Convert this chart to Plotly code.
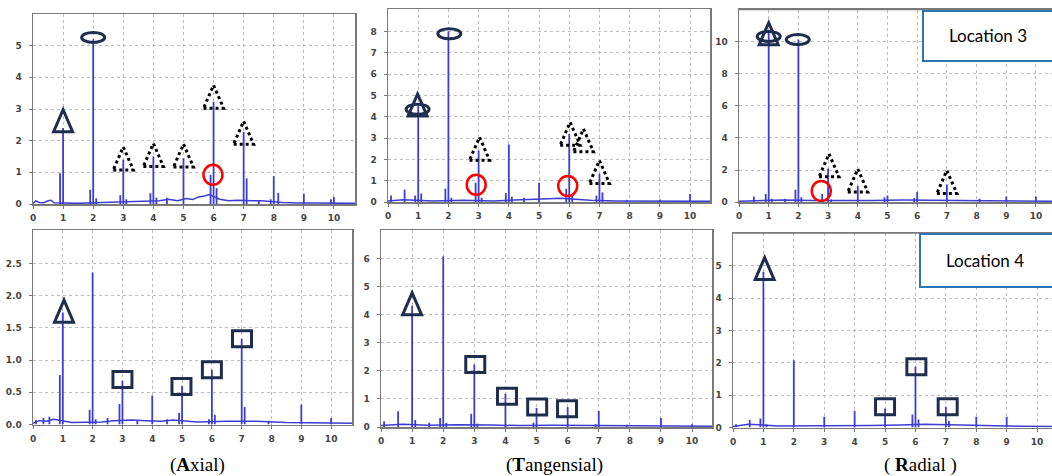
import plotly.graph_objects as go

W, H = 1052, 476

# ---------------- data ----------------
x_ticks = [0, 1, 2, 3, 4, 5, 6, 7, 8, 9, 10]

# Axial, Location 3
a3_peak_f = [0.9, 1.0, 1.9, 2.0, 2.1, 2.9, 3.0, 3.1, 3.9, 4.0, 4.1, 4.45, 5.0, 5.9, 6.0, 6.1, 7.0, 7.1, 7.5, 7.9, 8.0, 8.15, 9.0, 9.9, 10.0]
a3_peak_a = [0.97, 2.4, 0.45, 5.2, 0.18, 0.28, 1.4, 0.15, 0.34, 1.5, 0.2, 0.2, 1.45, 0.92, 3.23, 0.5, 2.28, 0.81, 0.1, 0.15, 0.88, 0.35, 0.33, 0.15, 0.22]
a3_floor_x = [0, 0.1, 0.2, 0.35, 0.5, 0.6, 0.7, 1.2, 1.5, 2.3, 2.6, 3.3, 3.6, 4.2, 4.5, 4.8, 5.1, 5.3, 5.5, 5.7, 5.85, 6.2, 6.5, 6.8, 7.3, 7.6, 8.3, 8.8, 9.5, 10.7]
a3_floor_y = [0.02, 0.1, 0.05, 0.04, 0.1, 0.12, 0.04, 0.04, 0.02, 0.05, 0.06, 0.06, 0.08, 0.1, 0.15, 0.1, 0.17, 0.14, 0.22, 0.25, 0.3, 0.15, 0.1, 0.12, 0.1, 0.1, 0.05, 0.03, 0.03, 0.02]
a3_yticks = [0, 1, 2, 3, 4, 5]

# Tangensial, Location 3
t3_peak_f = [0.1, 0.55, 0.9, 1.0, 1.1, 1.9, 2.0, 2.1, 2.9, 3.0, 3.1, 3.9, 4.0, 4.1, 4.5, 5.0, 5.9, 6.0, 6.1, 6.9, 7.0, 7.1, 7.9, 9.0, 10.0]
t3_peak_a = [0.3, 0.58, 0.3, 4.5, 0.4, 0.63, 8.0, 0.2, 0.9, 2.42, 0.2, 0.42, 2.7, 0.25, 0.2, 0.9, 0.62, 3.2, 0.3, 0.3, 1.33, 0.45, 0.1, 0.12, 0.38]
t3_floor_x = [0, 0.5, 1.5, 2.5, 3.5, 4.3, 4.8, 5.3, 5.7, 6.3, 6.7, 7.5, 8.5, 9.5, 10.7]
t3_floor_y = [0.05, 0.1, 0.05, 0.08, 0.05, 0.08, 0.12, 0.15, 0.18, 0.1, 0.08, 0.05, 0.04, 0.04, 0.03]
t3_yticks = [0, 1, 2, 3, 4, 5, 6, 7, 8]

# Radial, Location 3
r3_peak_f = [0.5, 0.9, 1.0, 1.1, 1.55, 1.9, 2.0, 2.1, 2.8, 3.0, 3.1, 4.0, 4.9, 5.0, 5.9, 6.0, 7.0, 8.1, 9.0, 10.0]
r3_peak_a = [0.35, 0.5, 10.6, 0.2, 0.2, 0.77, 10.15, 0.3, 0.5, 2.1, 0.15, 1.0, 0.3, 0.4, 0.25, 0.62, 1.1, 0.2, 0.35, 0.35]
r3_floor_x = [0, 0.8, 1.5, 2.5, 3.5, 4.5, 5.5, 6.5, 7.5, 8.5, 9.5, 10.6]
r3_floor_y = [0.05, 0.1, 0.12, 0.1, 0.08, 0.1, 0.12, 0.1, 0.1, 0.08, 0.06, 0.05]
r3_yticks = [0, 2, 4, 6, 8, 10]

# Axial, Location 4
a4_peak_f = [0.1, 0.35, 0.55, 0.9, 1.0, 1.9, 2.0, 2.1, 2.5, 2.9, 3.0, 3.5, 4.0, 4.5, 4.9, 5.0, 5.9, 6.0, 6.1, 7.0, 7.1, 7.9, 9.0, 10.0]
a4_peak_a = [0.07, 0.1, 0.12, 0.77, 1.74, 0.23, 2.36, 0.08, 0.1, 0.32, 0.68, 0.06, 0.45, 0.08, 0.18, 0.6, 0.08, 0.85, 0.15, 1.33, 0.27, 0.06, 0.31, 0.1]
a4_floor_x = [0, 0.2, 0.45, 0.7, 1.3, 2.3, 2.7, 3.3, 3.8, 4.3, 4.7, 5.5, 6.5, 7.5, 8.5, 9.5, 10.7]
a4_floor_y = [0.02, 0.06, 0.05, 0.08, 0.03, 0.04, 0.06, 0.07, 0.06, 0.05, 0.07, 0.04, 0.05, 0.05, 0.03, 0.03, 0.02]
a4_yticks = [0.0, 0.5, 1.0, 1.5, 2.0, 2.5]

# Tangensial, Location 4
t4_peak_f = [0.1, 0.55, 1.0, 1.1, 1.55, 1.9, 2.0, 2.1, 2.9, 3.0, 3.1, 4.0, 4.9, 5.0, 6.0, 6.9, 7.0, 7.9, 9.0, 10.0]
t4_peak_a = [0.2, 0.56, 4.33, 0.25, 0.15, 0.32, 6.08, 0.15, 0.47, 2.23, 0.12, 1.19, 0.15, 0.68, 0.71, 0.1, 0.57, 0.08, 0.32, 0.1]
t4_floor_x = [0, 0.3, 0.7, 1.5, 2.5, 3.5, 4.5, 5.5, 6.5, 7.5, 8.5, 9.5, 10.7]
t4_floor_y = [0.05, 0.08, 0.1, 0.06, 0.08, 0.07, 0.05, 0.06, 0.06, 0.05, 0.04, 0.04, 0.03]
t4_yticks = [0, 1, 2, 3, 4, 5, 6]

# Radial, Location 4
r4_peak_f = [0.1, 0.55, 0.9, 1.0, 1.1, 2.0, 3.0, 4.0, 5.0, 5.9, 6.0, 6.1, 7.0, 7.1, 8.0, 9.0, 10.0]
r4_peak_a = [0.1, 0.23, 0.28, 4.81, 0.1, 2.08, 0.33, 0.52, 0.59, 0.4, 1.88, 0.25, 0.64, 0.2, 0.33, 0.33, 0.05]
r4_floor_x = [0, 0.5, 1.5, 2.5, 3.5, 4.5, 5.5, 6.3, 7.5, 8.5, 9.5, 10.5]
r4_floor_y = [0.03, 0.1, 0.05, 0.05, 0.05, 0.06, 0.08, 0.1, 0.08, 0.05, 0.04, 0.03]
r4_yticks = [0, 1, 2, 3, 4, 5]

# annotation marks: (kind, x, y) in data units
a3_marks = [("tri", 1.0, 2.63), ("ell", 2.0, 5.26), ("dtri", 3.0, 1.44), ("dtri", 4.0, 1.55),
            ("dtri", 5.0, 1.53), ("dtri", 6.0, 3.39), ("dtri", 7.0, 2.25), ("red", 5.98, 0.92)]
t3_marks = [("ell", 0.98, 4.35), ("tri", 0.98, 4.55), ("ell", 2.03, 7.89), ("dtri", 3.03, 2.5),
            ("dtri", 6.03, 3.2), ("dtri", 6.47, 2.89), ("dtri", 7.0, 1.41),
            ("red", 2.92, 0.81), ("red", 5.95, 0.75)]
r3_marks = [("ell", 1.0, 10.35), ("tri", 1.0, 10.52), ("ell", 1.98, 10.15), ("dtri", 3.03, 2.29),
            ("dtri", 4.0, 1.35), ("dtri", 7.0, 1.25), ("red", 2.77, 0.69)]
a4_marks = [("tri", 1.04, 1.76), ("sq", 3.0, 0.70), ("sq", 4.98, 0.59), ("sq", 6.0, 0.85), ("sq", 7.01, 1.33)]
t4_marks = [("tri", 1.0, 4.39), ("sq", 3.03, 2.23), ("sq", 4.05, 1.1), ("sq", 5.02, 0.71), ("sq", 5.98, 0.65)]
r4_marks = [("tri", 1.04, 4.92), ("sq", 5.0, 0.64), ("sq", 6.03, 1.88), ("sq", 7.06, 0.64)]

panel_titles = ["(<b>A</b>xial)", "(<b>T</b>angensial)", "( <b>R</b>adial )"]
location_labels = ["Location 3", "Location 4"]

# ---------------- layout geometry (pixels) ----------------
panels = [
    dict(f=a3_peak_f, a=a3_peak_a, fx=a3_floor_x, fy=a3_floor_y, yt=a3_yticks, marks=a3_marks,
         px=(33, 355), py=(14, 204), xr=10.70, yr=6.0, fmt="d", mirror_y=True),
    dict(f=t3_peak_f, a=t3_peak_a, fx=t3_floor_x, fy=t3_floor_y, yt=t3_yticks, marks=t3_marks,
         px=(388, 710), py=(9, 202), xr=10.66, yr=9.05, fmt="d", mirror_y=True),
    dict(f=r3_peak_f, a=r3_peak_a, fx=r3_floor_x, fy=r3_floor_y, yt=r3_yticks, marks=r3_marks,
         px=(739, 1052), py=(9.5, 202), xr=10.54, yr=12.03, fmt="d", mirror_y=False),
    dict(f=a4_peak_f, a=a4_peak_a, fx=a4_floor_x, fy=a4_floor_y, yt=a4_yticks, marks=a4_marks,
         px=(33, 352), py=(230, 424.5), xr=10.70, yr=3.02, fmt=".1f", mirror_y=True),
    dict(f=t4_peak_f, a=t4_peak_a, fx=t4_floor_x, fy=t4_floor_y, yt=t4_yticks, marks=t4_marks,
         px=(381, 712), py=(230, 427), xr=10.64, yr=7.02, fmt="d", mirror_y=True),
    dict(f=r4_peak_f, a=r4_peak_a, fx=r4_floor_x, fy=r4_floor_y, yt=r4_yticks, marks=r4_marks,
         px=(733, 1052), py=(233, 427.5), xr=10.49, yr=6.02, fmt="d", mirror_y=False),
]

LINE_BLUE = "#3d3dd2"
NAVY = "#1f2d4e"
FRAME = "#7a7a7a"
GRID = "#bcbcbc"
TICKFONT = dict(family="DejaVu Sans", size=9, color="#444444", weight="bold")

mark_style = {
    "tri": dict(type="path", path="M -9.5,-11 L 9.5,-11 L 0,11 Z", line=dict(color=NAVY, width=3)),
    "dtri": dict(type="path", path="M -10,-11.5 L 10,-11.5 L 0,11.5 Z", line=dict(color="black", width=3, dash="dot")),
    "ell": dict(type="circle", x0=-11.5, x1=11.5, y0=-5, y1=5, line=dict(color=NAVY, width=3)),
    "red": dict(type="circle", x0=-9.5, x1=9.5, y0=-10, y1=10, line=dict(color="#ff0000", width=2.5)),
    "sq": dict(type="rect", x0=-9.5, x1=9.5, y0=-8, y1=8, line=dict(color=NAVY, width=3)),
}

fig = go.Figure()
shapes = []
layout = {}

for i, p in enumerate(panels, start=1):
    xa = "x" if i == 1 else f"x{i}"
    ya = "y" if i == 1 else f"y{i}"
    # noise floor
    fig.add_trace(go.Scatter(x=p["fx"], y=p["fy"], mode="lines", xaxis=xa, yaxis=ya,
                             line=dict(color=LINE_BLUE, width=1.5), hoverinfo="skip", showlegend=False))
    # spectral peaks (stems)
    sx, sy = [], []
    for f, a in zip(p["f"], p["a"]):
        sx += [f, f, None]
        sy += [0, a, None]
    fig.add_trace(go.Scatter(x=sx, y=sy, mode="lines", xaxis=xa, yaxis=ya,
                             line=dict(color=LINE_BLUE, width=1.8), hoverinfo="skip", showlegend=False))

    x0, x1 = p["px"]
    ytop, ybot = p["py"]
    xkey = "xaxis" if i == 1 else f"xaxis{i}"
    ykey = "yaxis" if i == 1 else f"yaxis{i}"
    layout[xkey] = dict(domain=[x0 / W, min(x1 / W, 1.0)], range=[0, p["xr"]], anchor=ya,
                        tickvals=x_ticks, ticktext=[str(v) for v in x_ticks],
                        showgrid=True, gridcolor=GRID, griddash="dot", gridwidth=1,
                        showline=True, linecolor=FRAME, linewidth=1.5, mirror=True,
                        ticks="outside", ticklen=3, tickcolor=FRAME, tickfont=TICKFONT,
                        ticklabelstandoff=2, zeroline=False, fixedrange=True, automargin=False)
    yt = p["yt"]
    yttext = [f"{v:.1f}" if p["fmt"] == ".1f" else str(int(v)) for v in yt]
    layout[ykey] = dict(domain=[1 - ybot / H, 1 - ytop / H], range=[0, p["yr"]], anchor=xa,
                        tickvals=yt, ticktext=yttext,
                        showgrid=True, gridcolor=GRID, griddash="dot", gridwidth=1,
                        showline=True, linecolor=FRAME, linewidth=1.5,
                        mirror=True if p["mirror_y"] else False,
                        ticks="outside", ticklen=3, tickcolor=FRAME, tickfont=TICKFONT,
                        ticklabelstandoff=5, zeroline=False, fixedrange=True, automargin=False)
    if not p["mirror_y"]:
        # right edge of the panel is cut by the picture: draw only top border
        shapes.append(dict(type="line", xref="paper", yref="paper", x0=x0 / W, x1=1.0,
                           y0=1 - ytop / H, y1=1 - ytop / H, line=dict(color=FRAME, width=1.5)))

    for kind, mx, my in p["marks"]:
        s = dict(mark_style[kind])
        s.update(xref=xa, yref=ya, xsizemode="pixel", ysizemode="pixel",
                 xanchor=mx, yanchor=my, fillcolor="rgba(0,0,0,0)", layer="above")
        shapes.append(s)

# Location boxes
shapes.append(dict(type="rect", xref="paper", yref="paper", x0=923 / W, x1=1.02,
                   y0=1 - 61 / H, y1=1 - 11 / H, fillcolor="white",
                   line=dict(color="#2e75b6", width=2), layer="above"))
shapes.append(dict(type="rect", xref="paper", yref="paper", x0=920 / W, x1=1.02,
                   y0=1 - 287 / H, y1=1 - 234 / H, fillcolor="white",
                   line=dict(color="#2e75b6", width=2), layer="above"))

annotations = [
    dict(text=location_labels[0], x=988 / W, y=1 - 36 / H, xref="paper", yref="paper",
         showarrow=False, font=dict(family="Lato", size=17, color="black"), xanchor="center", yanchor="middle"),
    dict(text=location_labels[1], x=985 / W, y=1 - 260 / H, xref="paper", yref="paper",
         showarrow=False, font=dict(family="Lato", size=17, color="black"), xanchor="center", yanchor="middle"),
]
for txt, cx in zip(panel_titles, [197, 554, 920]):
    annotations.append(dict(text=txt, x=cx / W, y=1 - 465 / H, xref="paper", yref="paper",
                            showarrow=False, xanchor="center", yanchor="middle", borderpad=0,
                            font=dict(family="Liberation Serif", size=19, color="black")))

fig.update_layout(width=W, height=H, margin=dict(l=0, r=0, t=0, b=0, autoexpand=False),
                  paper_bgcolor="white", plot_bgcolor="white",
                  shapes=shapes, annotations=annotations, showlegend=False, **layout)

fig.write_html("out.html", config={"displayModeBar": False, "staticPlot": True},
               post_script="document.body.style.margin='0';document.body.style.padding='0';"
                           "document.documentElement.style.overflow='hidden';")
